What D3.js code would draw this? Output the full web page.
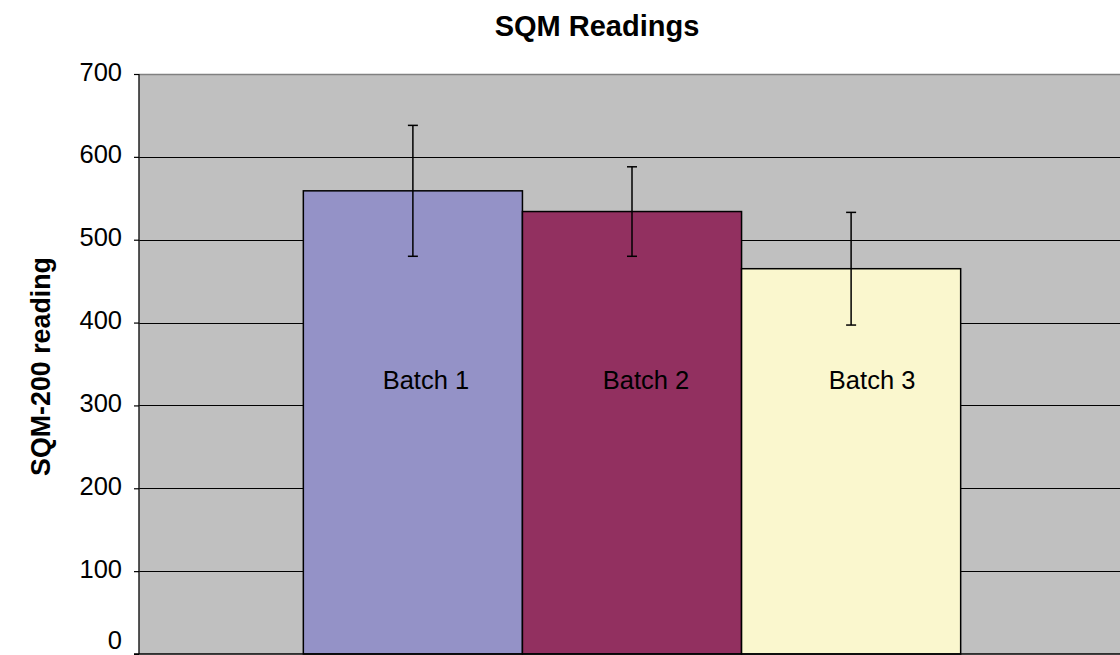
<!DOCTYPE html>
<html><head><meta charset="utf-8">
<script src="https://cdn.jsdelivr.net/npm/d3@7"></script>
<style>html,body{margin:0;padding:0;background:#fff;overflow:hidden}svg{display:block}</style>
</head><body>
<svg id="chart" width="1120" height="655"></svg>
<script>
const seriesNames = ["Batch 1", "Batch 2", "Batch 3"];
const seriesValues = [559, 534, 465];
const errorValues = [79, 54, 68];
const seriesColors = ["#9492C7", "#923060", "#FAF7CE"];
const yTicks = [0, 100, 200, 300, 400, 500, 600, 700];
const titleText = "SQM Readings";
const yAxisTitle = "SQM-200 reading";

const svg = d3.select("#chart");
const W = 1120, H = 655;
const margin = {left: 139, top: 74, right: -5, bottom: 1};
const plotL = margin.left, plotR = W - margin.right, plotT = margin.top, plotB = H - margin.bottom;
const font = "'Liberation Sans', Arial, sans-serif";

const y = d3.scaleLinear().domain([0, 700]).range([plotB, plotT]);
// single category, three series, gap width 150%
const plotW = plotR - plotL;
const barW = plotW / (seriesNames.length + 1.5);
const x = d3.scaleBand().domain(seriesNames)
  .range([plotL + barW * 0.75, plotR - barW * 0.75]).padding(0);

// plot background
svg.append("rect").attr("x", plotL).attr("y", plotT).attr("width", plotW).attr("height", plotB - plotT)
  .attr("fill", "#C0C0C0");
svg.append("line").attr("x1", plotL).attr("x2", plotR).attr("y1", plotT + 0.5).attr("y2", plotT + 0.5)
  .attr("stroke", "#808080").attr("stroke-width", 1.5);

// gridlines
svg.append("g").selectAll("line").data(yTicks.filter(d => d > 0 && d < 700)).join("line")
  .attr("x1", plotL).attr("x2", plotR)
  .attr("y1", d => Math.round(y(d)) + 0.5).attr("y2", d => Math.round(y(d)) + 0.5)
  .attr("stroke", "#000").attr("stroke-width", 1.2);

// bars
svg.append("g").selectAll("rect").data(seriesNames).join("rect")
  .attr("x", d => x(d)).attr("width", x.bandwidth())
  .attr("y", (d, i) => y(seriesValues[i])).attr("height", (d, i) => plotB - y(seriesValues[i]))
  .attr("fill", (d, i) => seriesColors[i]).attr("stroke", "#000").attr("stroke-width", 1.5);

// error bars
const eb = svg.append("g").attr("stroke", "#000").attr("stroke-width", 1.5);
seriesNames.forEach((d, i) => {
  const cx = x(d) + x.bandwidth() / 2;
  const hi = y(seriesValues[i] + errorValues[i]), lo = y(seriesValues[i] - errorValues[i]);
  eb.append("line").attr("x1", cx).attr("x2", cx).attr("y1", hi).attr("y2", lo);
  eb.append("line").attr("x1", cx - 5).attr("x2", cx + 5).attr("y1", hi).attr("y2", hi);
  eb.append("line").attr("x1", cx - 5).attr("x2", cx + 5).attr("y1", lo).attr("y2", lo);
});

// series labels inside bars
const labelDx = [13, 14, 21];
svg.append("g").selectAll("text").data(seriesNames).join("text")
  .attr("x", (d, i) => x(d) + x.bandwidth() / 2 + labelDx[i])
  .attr("y", y(320))
  .attr("text-anchor", "middle").attr("font-family", font).attr("font-size", 25.5)
  .attr("fill", "#000").text(d => d);

// y axis
const yAxis = d3.axisLeft(y).tickValues(yTicks).tickSize(5).tickPadding(12);
const ga = svg.append("g").attr("transform", `translate(${plotL},0)`).call(yAxis);
ga.select(".domain").attr("stroke", "#222").attr("stroke-width", 1.5).attr("d", `M0,${plotT}V${plotB}`);
ga.selectAll(".tick line").attr("stroke", "#000").attr("stroke-width", 1.2);
ga.selectAll(".tick text").attr("font-family", font).attr("font-size", 25.5).attr("fill", "#000")
  .attr("dy", d => d === 0 ? "-0.2em" : "0.24em");

// bottom axis line
svg.append("line").attr("x1", plotL - 5).attr("x2", plotR).attr("y1", plotB).attr("y2", plotB)
  .attr("stroke", "#000").attr("stroke-width", 1.5);

// titles
svg.append("text").attr("x", 597).attr("y", 36).attr("text-anchor", "middle")
  .attr("font-family", font).attr("font-weight", "bold").attr("font-size", 29).text(titleText);
svg.append("text").attr("transform", `translate(50,${(257 + 476) / 2}) rotate(-90)`)
  .attr("text-anchor", "middle").attr("font-family", font).attr("font-weight", "bold")
  .attr("font-size", 26.8).text(yAxisTitle);
</script>
</body></html>
